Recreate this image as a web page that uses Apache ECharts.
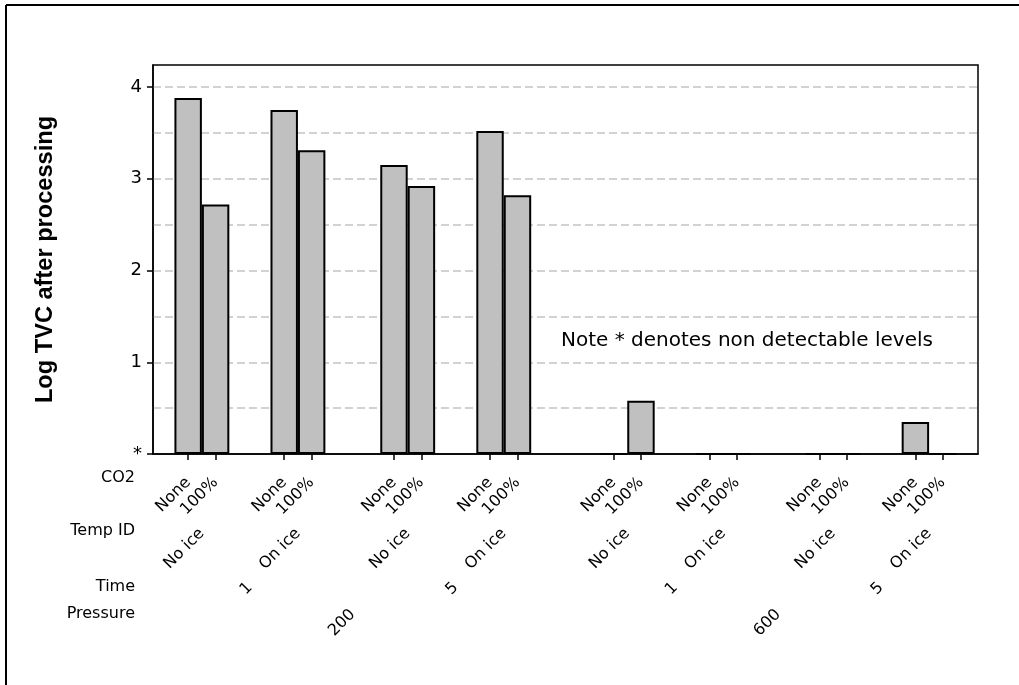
<!DOCTYPE html>
<html>
<head>
<meta charset="utf-8">
<script src="https://cdn.jsdelivr.net/npm/echarts@6/dist/echarts.min.js"></script>
<style>
  html, body { margin: 0; padding: 0; background: #fff; }
  #chart { width: 1019px; height: 685px; }
</style>
</head>
<body>
<div id="chart"></div>
<script>
// ---- data ----
const co2 = ['None','100%','None','100%','None','100%','None','100%',
             'None','100%','None','100%','None','100%','None','100%'];
const tempId = ['No ice','No ice','On ice','On ice','No ice','No ice','On ice','On ice',
                'No ice','No ice','On ice','On ice','No ice','No ice','On ice','On ice'];
const time = ['1','1','1','1','5','5','5','5','1','1','1','1','5','5','5','5'];
const pressure = ['200','200','200','200','200','200','200','200',
                  '600','600','600','600','600','600','600','600'];
// 0 = non detectable level (shown as '*')
const logTVC = [3.88, 2.72, 3.75, 3.31, 3.15, 2.92, 3.52, 2.82,
                0, 0.58, 0, 0, 0, 0, 0.35, 0];
const yTickValues = [0, 1, 2, 3, 4];
const yTickLabels = ['*', '1', '2', '3', '4'];
const rowTitles = ['CO2', 'Temp ID', 'Time', 'Pressure'];
const noteText = 'Note * denotes non detectable levels';

// ---- layout of clustered categories (slots of 1/16 bar width) ----
const BAR = 16, FIRST = 20, TAIL = 21;
const GAP_TEMP = 24, GAP_TIME = 32, GAP_PRESS = 40;
const pos = [];
let p = FIRST;
for (let i = 0; i < logTVC.length; i++) {
  if (i > 0) {
    if (pressure[i] !== pressure[i-1]) p += BAR + GAP_PRESS;
    else if (time[i] !== time[i-1]) p += BAR + GAP_TIME;
    else if (tempId[i] !== tempId[i-1]) p += BAR + GAP_TEMP;
    else p += BAR;
  }
  pos.push(p);
}
const total = pos[pos.length - 1] + TAIL;
const slots = Array.from({length: total}, (_, i) => String(i));
const barData = slots.map(() => '-');
pos.forEach((s, i) => { barData[s] = logTVC[i]; });
const barSlotSet = new Set(pos);

function groupLabels(keys, labels) {
  const map = {};
  let start = 0;
  for (let i = 1; i <= keys.length; i++) {
    if (i === keys.length || keys[i] !== keys[start]) {
      const mid = (pos[start] + pos[i-1]) / 2;
      map[String(mid)] = labels[start];
      start = i;
    }
  }
  return map;
}
const co2Map = groupLabels(co2.map((_, i) => String(i)), co2);
const tempMap = groupLabels(tempId.map((_, i) => pressure[i] + '|' + time[i] + '|' + tempId[i]), tempId);
const timeMap = groupLabels(time.map((_, i) => pressure[i] + '|' + time[i]), time);
const pressMap = groupLabels(pressure.slice(), pressure);

const FONT = 'DejaVu Sans';
const GRID = { left: 153, right: 41, top: 65, bottom: 231 };
const gridW = 1019 - GRID.left - GRID.right;
const barWidth = gridW / total * BAR;
const Y_MAX = 4.24;

function labelAxis(name, offset, margin, map) {
  return {
    type: 'category', data: slots, gridIndex: 0, position: 'bottom', offset: offset,
    axisLine: { show: false, onZero: false }, axisTick: { show: false }, splitLine: { show: false },
    name: name, nameLocation: 'start', nameGap: 18,
    nameTextStyle: { fontFamily: FONT, fontSize: 16, color: '#000', align: 'right', verticalAlign: 'middle' },
    axisLabel: {
      interval: 0, rotate: 45, margin: margin, fontFamily: FONT, fontSize: 16, color: '#000',
      formatter: (v) => map[v] || ''
    }
  };
}

const chart = echarts.init(document.getElementById('chart'), null, { renderer: 'canvas' });
chart.setOption({
  animation: false,
  backgroundColor: '#fff',
  textStyle: { fontFamily: FONT },
  grid: Object.assign({ show: true, borderColor: '#000', borderWidth: 1.5, backgroundColor: 'transparent' }, GRID),
  xAxis: [
    {
      type: 'category', data: slots, position: 'bottom', z: 3,
      axisLine: { show: true, onZero: false, lineStyle: { color: '#000', width: 1.5 } },
      axisTick: { show: true, alignWithLabel: true, length: 6,
                  interval: (idx) => barSlotSet.has(idx),
                  lineStyle: { color: '#000', width: 1.5 } },
      axisLabel: { show: false },
      splitLine: { show: false }
    },
    labelAxis(rowTitles[0], 24, 2, co2Map),
    labelAxis(rowTitles[1], 77, 0, tempMap),
    labelAxis(rowTitles[2], 133, -2, timeMap),
    labelAxis(rowTitles[3], 160, -2, pressMap)
  ],
  yAxis: [
    {
      type: 'value', min: 0, max: Y_MAX, interval: 0.5, position: 'left', z: 0,
      axisLine: { show: false, onZero: false }, axisTick: { show: false }, axisLabel: { show: false },
      splitLine: { show: true, showMinLine: false, showMaxLine: false,
                   lineStyle: { type: [8, 4], color: '#c4c4c4', width: 1.5 } }
    },
    {
      type: 'value', min: 0, max: Y_MAX, interval: 1, position: 'left', z: 3,
      name: 'Log TVC after processing', nameLocation: 'middle', nameGap: 96,
      nameTextStyle: { fontFamily: 'Liberation Sans', fontWeight: 'bold', fontSize: 23.6, color: '#000' },
      axisLine: { show: true, onZero: false, lineStyle: { color: '#000', width: 1.5 } },
      axisTick: { show: true, length: 6, customValues: yTickValues, lineStyle: { color: '#000', width: 1.5 } },
      axisLabel: {
        customValues: yTickValues, margin: 11, fontFamily: FONT, fontSize: 18, color: '#000',
        formatter: (v) => { const i = yTickValues.indexOf(v); return i >= 0 ? yTickLabels[i] : ''; }
      },
      splitLine: { show: false }
    }
  ],
  series: [{
    type: 'bar', xAxisIndex: 0, yAxisIndex: 1, data: barData, barWidth: barWidth,
    itemStyle: { color: '#c0c0c0', borderColor: '#000', borderWidth: 2 },
    emphasis: { disabled: true }
  }],
  graphic: [
    { type: 'line', shape: { x1: 6, y1: 5, x2: 1019, y2: 5 }, style: { stroke: '#000', lineWidth: 2 } },
    { type: 'line', shape: { x1: 6, y1: 5, x2: 6, y2: 685 }, style: { stroke: '#000', lineWidth: 2 } },
    { type: 'text', x: 561, y: 341,
      style: { text: noteText, font: '20px "DejaVu Sans"', fill: '#000', verticalAlign: 'middle' } }
  ]
});
</script>
</body>
</html>
